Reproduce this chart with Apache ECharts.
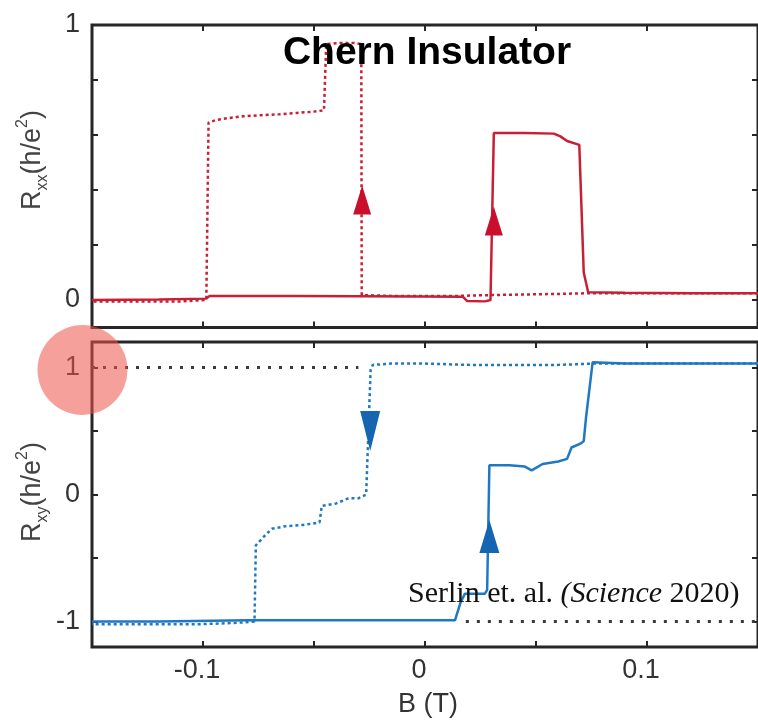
<!DOCTYPE html>
<html>
<head>
<meta charset="utf-8">
<script src="https://cdn.jsdelivr.net/npm/echarts@6/dist/echarts.min.js"></script>
<style>
  html, body { margin: 0; padding: 0; background: #fff; }
  #chart { width: 758px; height: 722px; }
</style>
</head>
<body>
<div id="chart"></div>
<script>
// Field axis (tesla)
const bTicks = [-0.1, -0.05, 0, 0.05, 0.1];
const bLabels = [-0.1, 0, 0.1];

// Rxx, field swept down (dotted trace)
const rxxDownB = [0.15, 0.12, 0.09, 0.075, 0.06, 0.045, 0.03, 0.015, 0.0, -0.015, -0.0285, -0.0287, -0.032, -0.038, -0.0445, -0.0455, -0.05, -0.058, -0.066, -0.074, -0.082, -0.088, -0.094, -0.0975, -0.0985, -0.11, -0.13, -0.15];
const rxxDownV = [0.025, 0.025, 0.025, 0.025, 0.022, 0.02, 0.018, 0.015, 0.015, 0.015, 0.018, 0.93, 0.935, 0.935, 0.93, 0.69, 0.685, 0.68, 0.675, 0.672, 0.668, 0.662, 0.655, 0.645, 0.0, -0.005, -0.005, -0.005];

// Rxx, field swept up (solid trace)
const rxxUpB = [-0.15, -0.12, -0.0985, -0.097, -0.06, -0.03, 0.0, 0.017, 0.019, 0.027, 0.0295, 0.031, 0.045, 0.058, 0.061, 0.064, 0.0695, 0.0715, 0.0735, 0.09, 0.12, 0.15];
const rxxUpV = [0.0, 0.002, 0.005, 0.015, 0.015, 0.014, 0.013, 0.012, -0.004, -0.005, 0.0, 0.607, 0.607, 0.605, 0.595, 0.578, 0.564, 0.1, 0.028, 0.026, 0.025, 0.025];

// Rxy, field swept down (dotted trace)
const rxyDownB = [0.15, 0.12, 0.09, 0.076, 0.06, 0.04, 0.02, 0.0, -0.015, -0.0235, -0.0245, -0.0265, -0.03, -0.0345, -0.04, -0.0465, -0.0475, -0.055, -0.063, -0.069, -0.0725, -0.0762, -0.0768, -0.085, -0.1, -0.12, -0.15];
const rxyDownV = [1.03, 1.03, 1.03, 1.03, 1.02, 1.02, 1.02, 1.03, 1.03, 1.02, 0.98, 0.0, -0.03, -0.03, -0.07, -0.09, -0.22, -0.24, -0.25, -0.27, -0.33, -0.4, -1.0, -1.01, -1.02, -1.02, -1.02];

// Rxy, field swept up (solid trace)
const rxyUpB = [-0.15, -0.12, -0.08, -0.05, -0.02, 0.0, 0.0135, 0.016, 0.018, 0.027, 0.028, 0.029, 0.038, 0.045, 0.048, 0.05, 0.053, 0.06, 0.064, 0.066, 0.07, 0.0715, 0.0725, 0.0755, 0.09, 0.12, 0.15];
const rxyUpV = [-1.0, -1.0, -0.99, -0.99, -0.99, -0.99, -0.99, -0.85, -0.78, -0.78, -0.75, 0.23, 0.23, 0.22, 0.19, 0.21, 0.24, 0.26, 0.28, 0.37, 0.4, 0.42, 0.6, 1.04, 1.03, 1.03, 1.03];

// Sweep-direction arrows
const redArrowB = [-0.0283, 0.031];
const redArrowV = [0.364, 0.287];
const blueDownArrowB = [-0.0247];
const blueDownArrowV = [0.5];
const blueUpArrowB = [0.029];
const blueUpArrowV = [-0.33];

// Quantized plateaus (h/e^2) drawn as guides
const plateauHighB = [-0.15, -0.03];
const plateauHighV = [1, 1];
const plateauLowB = [0.0184, 0.15];
const plateauLowV = [-1, -1];

const rxxTicks = [0, 0.2, 0.4, 0.6, 0.8, 1];
const rxxLabels = [0, 1];
const rxyTicks = [-1, -0.5, 0, 0.5, 1];
const rxyLabels = [-1, 0, 1];

const RED = '#c81e36';
const BLUE = '#1f78c4';
const FRAME = '#262626';
const SANS = '"Liberation Sans", Arial, sans-serif';

const zip = (xs, ys) => xs.map((x, i) => [x, ys[i]]);

function xAxisFor(grid, pos, labels) {
  return {
    type: 'value', gridIndex: grid, position: pos, min: -0.15, max: 0.15,
    axisLine: { show: false, onZero: false },
    splitLine: { show: false },
    axisTick: { show: true, inside: true, length: 6, customValues: bTicks, lineStyle: { color: FRAME, width: 2 } },
    axisLabel: {
      show: labels, customValues: bLabels, margin: 10,
      color: '#333', fontFamily: SANS, fontSize: 27, padding: [0, 12, 0, 0],
      formatter: v => (v === 0 ? '0' : String(v))
    }
  };
}
function yAxisFor(grid, pos, min, max, ticks, labels, showLabels) {
  return {
    type: 'value', gridIndex: grid, position: pos, min: min, max: max,
    axisLine: { show: false, onZero: false },
    splitLine: { show: false },
    axisTick: { show: true, inside: true, length: 6, customValues: ticks, lineStyle: { color: FRAME, width: 2 } },
    axisLabel: {
      show: showLabels, customValues: labels, margin: 12,
      color: '#333', fontFamily: SANS, fontSize: 27,
      formatter: v => String(v)
    }
  };
}
function trace(xi, yi, xs, ys, color, dash, width, z) {
  return {
    type: 'line', xAxisIndex: xi, yAxisIndex: yi, data: zip(xs, ys),
    showSymbol: false, symbol: 'none', animation: false, z: z,
    lineStyle: { color: color, width: width, type: dash }
  };
}
function arrows(xi, yi, xs, ys, color, size, rot) {
  return {
    type: 'scatter', xAxisIndex: xi, yAxisIndex: yi, data: zip(xs, ys),
    symbol: 'triangle', symbolSize: size, symbolRotate: rot, animation: false, z: 6,
    itemStyle: { color: color, opacity: 1 }
  };
}

const chart = echarts.init(document.getElementById('chart'), null, { renderer: 'canvas' });
chart.setOption({
  backgroundColor: '#ffffff',
  animation: false,
  grid: [
    { left: 92, top: 25, width: 669, height: 302.5, show: true, borderColor: FRAME, borderWidth: 3, backgroundColor: 'transparent' },
    { left: 92, top: 342, width: 669, height: 305, show: true, borderColor: FRAME, borderWidth: 3, backgroundColor: 'transparent' }
  ],
  xAxis: [
    xAxisFor(0, 'bottom', false),
    xAxisFor(0, 'top', false),
    xAxisFor(1, 'bottom', true),
    xAxisFor(1, 'top', false)
  ],
  yAxis: [
    yAxisFor(0, 'left', -0.1, 1, rxxTicks, rxxLabels, true),
    yAxisFor(0, 'right', -0.1, 1, rxxTicks, rxxLabels, false),
    yAxisFor(1, 'left', -1.2, 1.2, rxyTicks, rxyLabels, true),
    yAxisFor(1, 'right', -1.2, 1.2, rxyTicks, rxyLabels, false)
  ],
  series: [
    trace(0, 0, rxxDownB, rxxDownV, RED, [3, 3], 2.5, 3),
    trace(0, 0, rxxUpB, rxxUpV, RED, 'solid', 2.5, 4),
    arrows(0, 0, redArrowB, redArrowV, '#c8102e', [18, 29], 0),
    // quantized plateau guides, sparse square dots
    trace(2, 2, plateauHighB, plateauHighV, '#3a3a3a', [3, 8], 3, 2),
    trace(2, 2, plateauLowB, plateauLowV, '#3a3a3a', [3, 8], 3, 2),
    trace(2, 2, rxyDownB, rxyDownV, BLUE, [3, 3], 2.5, 3),
    trace(2, 2, rxyUpB, rxyUpV, BLUE, 'solid', 2.5, 4),
    arrows(2, 2, blueDownArrowB, blueDownArrowV, '#1565b0', [20, 40], 180),
    arrows(2, 2, blueUpArrowB, blueUpArrowV, '#1565b0', [20, 33], 0)
  ],
  graphic: [
    {
      type: 'text', x: 427, y: 53, z: 50,
      style: { text: 'Chern Insulator', align: 'center', verticalAlign: 'middle', fill: '#000',
        font: 'bold 39px ' + SANS }
    },
    {
      type: 'text', x: 408, y: 594, z: 50,
      style: {
        text: '{n|Serlin et. al. }{i|(Science}{n| 2020)}', align: 'left', verticalAlign: 'middle',
        rich: {
          n: { fontFamily: '"Liberation Serif", "Times New Roman", serif', fontSize: 30, fill: '#111' },
          i: { fontFamily: '"Liberation Serif", "Times New Roman", serif', fontSize: 30, fontStyle: 'italic', fill: '#111' }
        }
      }
    },
    {
      type: 'text', x: 33, y: 160, rotation: Math.PI / 2, z: 50,
      style: {
        text: '{m|R}{s|xx}{m|(h/e}{p|2}{m|)}', align: 'center', verticalAlign: 'middle',
        rich: {
          m: { fontFamily: SANS, fontSize: 27, lineHeight: 36, fill: '#444' },
          s: { fontFamily: SANS, fontSize: 16, lineHeight: 16, verticalAlign: 'bottom', fill: '#444' },
          p: { fontFamily: SANS, fontSize: 16, lineHeight: 16, verticalAlign: 'top', fill: '#444' }
        }
      }
    },
    {
      type: 'text', x: 33, y: 492, rotation: Math.PI / 2, z: 50,
      style: {
        text: '{m|R}{s|xy}{m|(h/e}{p|2}{m|)}', align: 'center', verticalAlign: 'middle',
        rich: {
          m: { fontFamily: SANS, fontSize: 27, lineHeight: 36, fill: '#444' },
          s: { fontFamily: SANS, fontSize: 16, lineHeight: 16, verticalAlign: 'bottom', fill: '#444' },
          p: { fontFamily: SANS, fontSize: 16, lineHeight: 16, verticalAlign: 'top', fill: '#444' }
        }
      }
    },
    {
      type: 'text', x: 428, y: 705, z: 50,
      style: { text: 'B (T)', align: 'center', verticalAlign: 'middle', fill: '#333',
        font: '27px ' + SANS }
    },
    {
      type: 'circle', z: 100, shape: { cx: 82.5, cy: 370, r: 45 },
      style: { fill: 'rgba(237, 82, 73, 0.55)' }
    }
  ]
});
</script>
</body>
</html>
